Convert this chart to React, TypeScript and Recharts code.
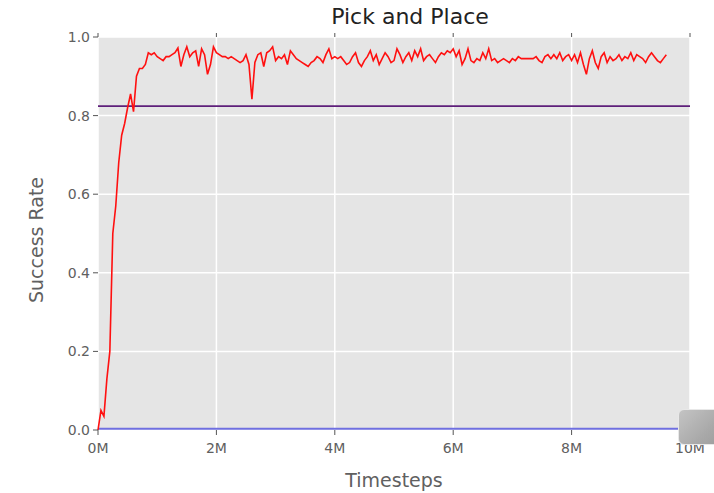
import { LineChart, Line, XAxis, YAxis, CartesianGrid, ReferenceLine } from 'recharts';

// success rate per evaluation, one every 0.05M timesteps
const successRate = [
  0.0, 0.05, 0.035, 0.13, 0.2, 0.5, 0.57, 0.68, 0.75, 0.78,
  0.82, 0.855, 0.81, 0.9, 0.92, 0.92, 0.93, 0.96, 0.955, 0.96,
  0.95, 0.945, 0.94, 0.95, 0.95, 0.955, 0.96, 0.972, 0.925, 0.955,
  0.975, 0.95, 0.96, 0.965, 0.925, 0.97, 0.955, 0.905, 0.93, 0.975,
  0.96, 0.955, 0.95, 0.95, 0.945, 0.95, 0.945, 0.94, 0.935, 0.94,
  0.955, 0.93, 0.842, 0.935, 0.955, 0.96, 0.925, 0.96, 0.965, 0.975,
  0.94, 0.95, 0.945, 0.955, 0.93, 0.965, 0.955, 0.945, 0.94, 0.935,
  0.93, 0.925, 0.935, 0.94, 0.95, 0.945, 0.935, 0.955, 0.97, 0.945,
  0.95, 0.945, 0.95, 0.94, 0.93, 0.935, 0.95, 0.96, 0.935, 0.925,
  0.94, 0.95, 0.965, 0.94, 0.955, 0.93, 0.945, 0.96, 0.95, 0.935,
  0.94, 0.97, 0.955, 0.935, 0.95, 0.96, 0.94, 0.965, 0.95, 0.97,
  0.94, 0.95, 0.955, 0.945, 0.935, 0.95, 0.96, 0.955, 0.965, 0.96,
  0.97, 0.95, 0.965, 0.93, 0.945, 0.97, 0.94, 0.935, 0.945, 0.94,
  0.96, 0.945, 0.97, 0.94, 0.945, 0.935, 0.94, 0.945, 0.94, 0.935,
  0.945, 0.94, 0.95, 0.945, 0.945, 0.945, 0.945, 0.945, 0.95, 0.94,
  0.935, 0.95, 0.955, 0.945, 0.955, 0.945, 0.96, 0.94, 0.95, 0.955,
  0.94, 0.955, 0.935, 0.96, 0.93, 0.905, 0.945, 0.965, 0.935, 0.92,
  0.95, 0.96, 0.935, 0.95, 0.94, 0.945, 0.955, 0.94, 0.95, 0.945,
  0.96, 0.94, 0.955, 0.95, 0.945, 0.935, 0.95, 0.96, 0.95, 0.94,
  0.935, 0.945, 0.955,
];
const stepSize = 0.05; // million timesteps between evaluations

const expertRate = 0.824;
const randomRate = 0.003;

const xTicks = [0, 2, 4, 6, 8, 10];
const yTicks = [0, 0.2, 0.4, 0.6, 0.8, 1.0];

const chartData = successRate.map((rate, i) => ({ step: i * stepSize, rate }));

const font = '"DejaVu Sans", sans-serif';
const tickStyle = { fill: '#606060', fontSize: 14, fontFamily: font };

export default function App() {
  return (
    <div style={{ position: 'absolute', left: 0, top: 0, width: 714, height: 493, background: '#fff', fontFamily: font }}>
      <div style={{ position: 'absolute', left: 114, width: 592, top: 4, textAlign: 'center', fontSize: 22, color: '#222' }}>
        Pick and Place
      </div>
      <LineChart width={714} height={493} data={chartData} margin={{ top: 27, right: 14, left: 38, bottom: 33 }}>
        <CartesianGrid fill="#e5e5e5" stroke="#fff" strokeWidth={1.5} horizontalValues={yTicks} verticalValues={xTicks} />
        <XAxis dataKey="step" type="number" domain={[0, 10]} ticks={xTicks} height={30}
          tickFormatter={(v: number) => `${v}M`} tick={tickStyle} axisLine={false}
          tickLine={{ stroke: '#555' }} tickSize={5} tickMargin={8} />
        <XAxis xAxisId="top" orientation="top" dataKey="step" type="number" domain={[0, 10]} ticks={xTicks}
          height={10} tickFormatter={() => ''} axisLine={false} tickLine={{ stroke: '#555' }} tickSize={4} />
        <YAxis domain={[0, 1]} ticks={yTicks} width={60} tickFormatter={(v: number) => v.toFixed(1)}
          tick={tickStyle} axisLine={false} tickLine={{ stroke: '#555' }} tickSize={5} tickMargin={3} />
        <YAxis yAxisId="right" orientation="right" domain={[0, 1]} ticks={yTicks} width={10}
          tickFormatter={() => ''} axisLine={false} tickLine={{ stroke: '#555' }} tickSize={4} />
        <ReferenceLine y={expertRate} stroke="#5e1f7a" strokeWidth={1.6} />
        <ReferenceLine y={randomRate} stroke="#6f6fe0" strokeWidth={2} />
        <Line type="linear" dataKey="rate" stroke="#ff1010" strokeWidth={1.6} dot={false} isAnimationActive={false} />
      </LineChart>
      <div style={{ position: 'absolute', left: 0, top: 175, width: 72, height: 130, display: 'flex', alignItems: 'center', justifyContent: 'center' }}>
        <div style={{ transform: 'rotate(-90deg)', whiteSpace: 'nowrap', fontSize: 19, color: '#606060' }}>Success Rate</div>
      </div>
      <div style={{ position: 'absolute', left: 98, width: 592, top: 469, textAlign: 'center', fontSize: 19, color: '#606060' }}>
        Timesteps
      </div>
      <div style={{ position: 'absolute', left: 678, top: 409, width: 48, height: 34, borderRadius: 6,
        background: 'linear-gradient(135deg, #c4c4c4 0%, #a9a9a9 60%, #9a9a9a 100%)', border: '1px solid #e8e8e8' }} />
    </div>
  );
}
